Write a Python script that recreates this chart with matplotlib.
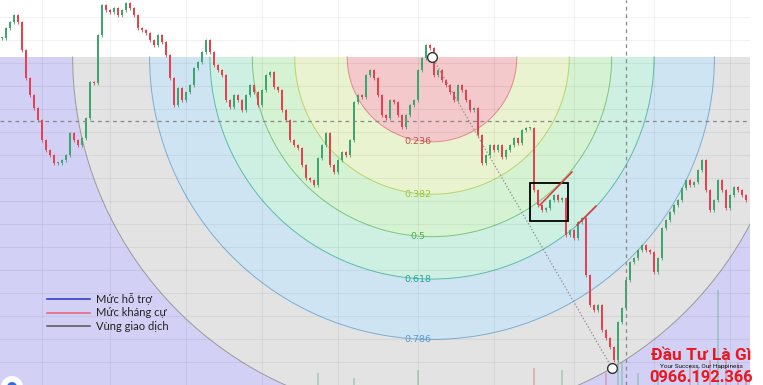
import numpy as np
import matplotlib
matplotlib.use("Agg")
import matplotlib.pyplot as plt
from matplotlib.patches import Rectangle, Polygon, Ellipse
from matplotlib.lines import Line2D

# clôtures, une bougie par séance
closes = [
    347, 357, 363, 370, 363, 335, 307, 290, 277, 265,
    245, 235, 230, 222, 222, 225, 230, 252, 245, 240,
    247, 267, 303, 302, 350, 380, 375, 373, 377, 370,
    375, 382, 377, 370, 357, 355, 352, 345, 340, 350,
    343, 330, 307, 280, 297, 285, 293, 300, 317, 323,
    333, 345, 333, 320, 315, 310, 285, 278, 290, 285,
    275, 290, 300, 293, 280, 295, 310, 313, 298, 295,
    275, 265, 245, 240, 237, 220, 207, 205, 200, 227,
    240, 252, 220, 213, 225, 233, 230, 245, 283, 290,
    288, 310, 315, 307, 290, 270, 267, 285, 283, 270,
    258, 270, 280, 285, 315, 327, 340, 337, 310, 315,
    305, 300, 293, 285, 300, 295, 285, 275, 277, 250,
    222, 230, 240, 235, 240, 228, 235, 240, 247, 242,
    255, 257, 257, 195, 180, 175, 177, 185, 190, 185,
    187, 150, 155, 147, 163, 167, 110, 80, 75, 80,
    55, 47, 38, 25, 63, 77, 105, 123, 127, 135,
    140, 135, 133, 113, 127, 157, 165, 173, 180, 185,
    197, 205, 200, 203, 215, 225, 195, 175, 185, 205,
    195, 177, 190, 198, 195, 190, 185,
]
opens = [closes[0]] + closes[:-1]

# volumes visibles en bas (index bougie, hauteur)
vol_idx = [79, 88, 104, 133, 140, 151, 154, 155, 159, 164, 172, 174, 177, 179, 181, 184, 186]
vol_h = [12, 7, 15, 17, 15, 12, 45, 22, 12, 15, 20, 18, 25, 95, 30, 22, 15]

# points d'ancrage de l'arc de Fibonacci (haut -> bas)
fib_high = (107.5, 328)
fib_low = (152.5, 17)
fib_levels = [1.0, 0.786, 0.618, 0.5, 0.382, 0.236]
fib_labels = ["", "0.786", "0.618", "0.5", "0.382", "0.236"]
fib_fill = ["#e3e3e3", "#cfe4f2", "#cdf0e3", "#d5f2d2", "#eaf3cf", "#f3c9cc"]
fib_line = ["#9a9a9a", "#7aaed2", "#5cbca6", "#7cc67c", "#b9d46a", "#e38a8a"]
fib_text = ["#888888", "#5b9bd5", "#26a69a", "#4caf50", "#9bc33b", "#c0504d"]
outer_fill = "#d2d0f4"

# lignes tracées à la main
red_lines = [((134.5, 180), (142.5, 213)), ((143.75, 160), (148.5, 179))]
box = (132, 164, 9.5, 38)
cross_x = 156
cross_y = 264

legend_labels = ["Mức hỗ trợ", "Mức kháng cự", "Vùng giao dịch"]
legend_colors = ["#2233cc", "#e8607a", "#555555"]

UP = "#3da66f"
DOWN = "#e5414f"
BAR_PX = 4.0   # pixels par bougie
WICK = 1.5

fig = plt.figure(figsize=(7.63, 3.85), dpi=100)
ax = fig.add_axes([0, 0, 750 / 763, 1])
ax.set_xlim(-0.5, 187)
ax.set_ylim(0, 385)
for s in ax.spines.values():
    s.set_visible(False)

# grille
ax.set_xticks([10, 27, 46, 65, 84, 104, 123, 143, 163, 182])
ax.set_yticks(np.arange(368, 0, -23))
ax.tick_params(length=0, labelbottom=False, labelleft=False)
ax.grid(True, color="black", alpha=0.05, lw=0.8)
ax.set_axisbelow(False)

# zones de Fibonacci (demi-cercles sous le point haut)
cx, cy = fib_high
r_px = np.hypot((fib_low[0] - fib_high[0]) * BAR_PX, fib_low[1] - fib_high[1])
ax.axhspan(0, cy, color=outer_fill, zorder=0.5, lw=0)
t = np.linspace(0, np.pi, 200)
for lev, fc, lc, tc, lab in zip(fib_levels, fib_fill, fib_line, fib_text, fib_labels):
    r = lev * r_px
    xs = cx + r / BAR_PX * np.cos(t)
    ys = cy - r * np.sin(t)
    ax.add_patch(Polygon(np.column_stack([xs, ys]), closed=True, fc=fc, ec="none", zorder=0.6))
    ax.plot(xs, ys, color=lc, lw=0.7, zorder=0.7)
    if lab:
        ax.text(104, cy - r, lab, color=tc, fontsize=6.8, ha="center", va="center", zorder=4)

# volumes
for i, h in zip(vol_idx, vol_h):
    c = UP if closes[i] >= opens[i] else DOWN
    ax.bar(i, h, width=0.7, bottom=0, color=c, alpha=0.3, lw=0, zorder=1)

# bougies
for i, (o, c) in enumerate(zip(opens, closes)):
    col = UP if c >= o else DOWN
    lo, hi = min(o, c), max(o, c)
    ax.vlines(i, lo - WICK, hi + WICK, color=col, lw=0.6, zorder=3)
    ax.add_patch(Rectangle((i - 0.36, lo), 0.72, max(hi - lo, 1.5), fc=col, ec="none", zorder=3))

# ligne de tendance pointillée + marqueurs
ax.plot([fib_high[0], fib_low[0]], [fib_high[1], fib_low[1]], ls=":", color="#888888", lw=0.9, zorder=3.5)
ax.plot([fib_high[0], fib_low[0]], [fib_high[1], fib_low[1]], ls="none", marker="o", ms=7,
        mfc="white", mec="#333333", mew=1, zorder=5)

# réticule
ax.axhline(cross_y, color="#888888", ls=(0, (3, 3)), lw=0.9, zorder=3.6)
ax.axvline(cross_x, color="#888888", ls=(0, (3, 3)), lw=0.9, zorder=3.6)

# cadre noir + lignes rouges
ax.add_patch(Rectangle(box[:2], box[2], box[3], fill=False, ec="black", lw=1.3, zorder=4))
for (x0, y0), (x1, y1) in red_lines:
    ax.plot([x0, x1], [y0, y1], color="#e03535", lw=1.1, zorder=4)

# logo coupé en bas à gauche
ax.add_patch(Ellipse((2.5, -2), 22 / BAR_PX, 22, fc="white", ec="none", zorder=5))
ax.add_patch(Ellipse((2.5, -2), 10 / BAR_PX, 10, fc="#2f6fe0", ec="none", zorder=5.1))

# légende
font = ["Lato", "DejaVu Sans"]
for k, (lab, col) in enumerate(zip(legend_labels, legend_colors)):
    yy = 1 - (299 + k * 13.5) / 385
    fig.add_artist(Line2D([47 / 763, 90 / 763], [yy, yy], color=col, lw=1.1, transform=fig.transFigure))
    fig.text(96 / 763, yy, lab, fontsize=8, color="#222222", va="center", ha="left", family=font)

# filigrane
wm = ["Roboto", "DejaVu Sans"]
fig.text(701 / 763, 1 - 355 / 385, "Đầu Tư Là Gì", color="#e8181e", fontsize=12.5, fontweight="bold",
         ha="center", va="center", family=wm)
fig.text(701 / 763, 1 - 366.5 / 385, "Your Success, Our Happiness", color="#111111", fontsize=4.6,
         ha="center", va="center", family=wm)
fig.text(701 / 763, 1 - 377 / 385, "0966.192.366", color="#e8181e", fontsize=11.8, fontweight="bold",
         ha="center", va="center", family=wm)

fig.savefig("out.png", dpi=100, facecolor="white")
